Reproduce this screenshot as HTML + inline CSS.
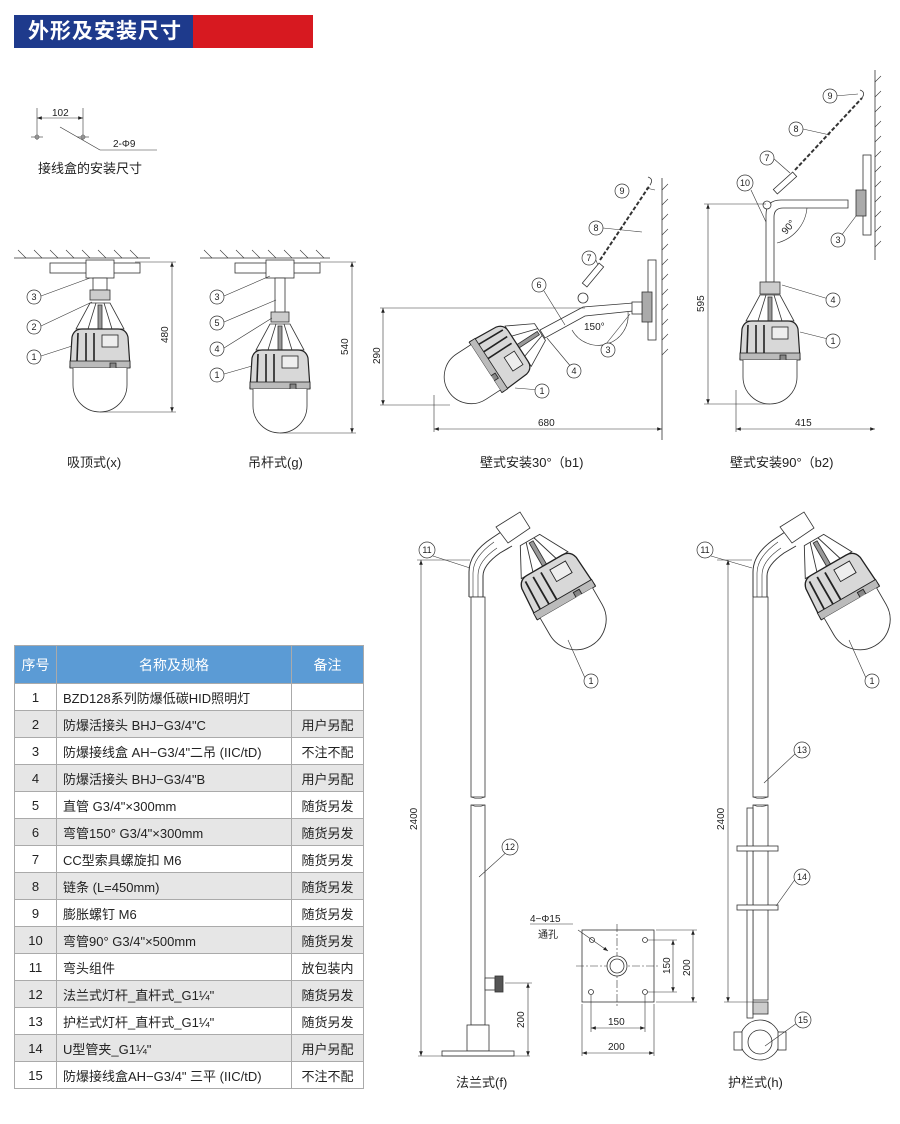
<!DOCTYPE html>
<html><head><meta charset="utf-8">
<style>
html,body{margin:0;padding:0;background:#fff;}
body{width:900px;height:1124px;position:relative;overflow:hidden;font-family:"Liberation Sans","Noto Sans CJK SC",sans-serif;}
.hb{position:absolute;left:14px;top:15px;width:179px;height:33px;background:#1e3a8c;color:#fff;font-size:21px;font-weight:bold;line-height:33px;padding-left:14px;box-sizing:border-box;letter-spacing:1px;}
.hr{position:absolute;left:193px;top:15px;width:120px;height:33px;background:#d71920;}
table{position:absolute;left:14px;top:645px;border-collapse:collapse;font-size:13px;color:#222;}
td{border:1px solid #aaa;height:26px;padding:0 6px;}
tr.h td{background:#5b9bd5;color:#fff;text-align:center;height:37px;font-size:14px;}
tr.g td{background:#e6e6e6;}
td.c{text-align:center;}
svg text{font-family:"Liberation Sans","Noto Sans CJK SC",sans-serif;fill:#222;}
</style></head><body>
<div class="hb">外形及安装尺寸</div><div class="hr"></div>

<svg width="900" height="1124" style="position:absolute;left:0;top:0" stroke="#333" fill="none" stroke-width="0.8">
<defs>
<g id="lamp">
  <polygon points="-10,0 10,0 24,26 -24,26" fill="#fff"/>
  <line x1="-4" y1="0" x2="-12" y2="26"/><line x1="4" y1="0" x2="12" y2="26"/>
  <rect x="-2" y="2" width="4" height="24" fill="#999"/>
  <path d="M-30,64 L-28,34 Q-26,26 -18,26 L18,26 Q26,26 28,34 L30,64 Z" fill="#d8d8d8" stroke="#222" stroke-width="1.2"/>
  <g stroke="#222" stroke-width="1.6">
  <line x1="-22" y1="30" x2="-23" y2="58"/><line x1="-14" y1="30" x2="-14" y2="58"/><line x1="-6" y1="30" x2="-6" y2="58"/>
  </g>
  <rect x="2" y="32" width="16" height="12" fill="#eee" stroke="#222"/>
  <rect x="-30" y="58" width="60" height="7" fill="#bbb" stroke="#222"/>
  <rect x="10" y="60" width="6" height="10" fill="#888" stroke="#222"/>
  <path d="M-27,65 L-27,82 A27,27 0 0 0 27,82 L27,65" fill="#fff"/>
</g>
<marker id="ar" markerWidth="8" markerHeight="6" refX="8" refY="3" orient="auto-start-reverse"><path d="M0,0 L8,3 L0,6 Z" fill="#222" stroke="none"/></marker>
</defs>

<!-- junction box dims -->
<g stroke-width="0.6">
<line x1="37" y1="108" x2="37" y2="140"/><line x1="83" y1="108" x2="83" y2="140"/>
<line x1="37" y1="118" x2="83" y2="118" marker-start="url(#ar)" marker-end="url(#ar)"/>
<line x1="31" y1="137" x2="43" y2="137"/><line x1="77" y1="137" x2="89" y2="137"/>
<circle cx="37" cy="137" r="2"/><circle cx="83" cy="137" r="2"/>
<line x1="60" y1="127" x2="100" y2="150"/><line x1="100" y1="150" x2="157" y2="150"/>
</g>
<text x="52" y="116" font-size="10" stroke="none">102</text>
<text x="113" y="147" font-size="10" stroke="none">2-Φ9</text>
<text x="38" y="173" font-size="13" stroke="none">接线盒的安装尺寸</text>

<!-- ceiling mount x -->
<line x1="14" y1="258" x2="150" y2="258"/>
<g stroke-width="0.6"><path d="M18,250l8,8M34,250l8,8M50,250l8,8M66,250l8,8M82,250l8,8M98,250l8,8M114,250l8,8M130,250l8,8"/></g>
<rect x="50" y="263" width="90" height="10" fill="#fff"/>
<rect x="86" y="260" width="28" height="18" fill="#fff"/>
<rect x="93" y="278" width="14" height="12" fill="#fff"/>
<rect x="90" y="290" width="20" height="10" fill="#ccc"/>
<use href="#lamp" x="100" y="303"/>
<line x1="135" y1="262" x2="176" y2="262" stroke-width="0.6"/><line x1="100" y1="412" x2="176" y2="412" stroke-width="0.6"/>
<line x1="172" y1="262" x2="172" y2="412" marker-start="url(#ar)" marker-end="url(#ar)" stroke-width="0.6"/>
<text transform="translate(168,343) rotate(-90)" font-size="10" stroke="none">480</text>

<!-- pendant g -->
<line x1="200" y1="258" x2="330" y2="258"/>
<g stroke-width="0.6"><path d="M204,250l8,8M220,250l8,8M236,250l8,8M252,250l8,8M268,250l8,8M284,250l8,8M300,250l8,8M316,250l8,8"/></g>
<rect x="235" y="263" width="85" height="10" fill="#fff"/>
<rect x="266" y="260" width="28" height="18" fill="#fff"/>
<rect x="275" y="278" width="10" height="36" fill="#fff"/>
<rect x="271" y="312" width="18" height="10" fill="#ccc"/>
<use href="#lamp" x="280" y="324"/>
<line x1="320" y1="262" x2="356" y2="262" stroke-width="0.6"/><line x1="280" y1="433" x2="356" y2="433" stroke-width="0.6"/>
<line x1="352" y1="262" x2="352" y2="433" marker-start="url(#ar)" marker-end="url(#ar)" stroke-width="0.6"/>
<text transform="translate(348,355) rotate(-90)" font-size="10" stroke="none">540</text>

<!-- wall 30 b1 -->
<line x1="662" y1="178" x2="662" y2="440"/>
<g stroke-width="0.6"><path d="M662,190l6,-6M662,205l6,-6M662,220l6,-6M662,235l6,-6M662,250l6,-6M662,265l6,-6M662,280l6,-6M662,295l6,-6M662,310l6,-6M662,325l6,-6M662,340l6,-6M662,355l6,-6"/></g>
<rect x="648" y="260" width="8" height="80" fill="#fff"/>
<rect x="642" y="292" width="10" height="30" fill="#aaa"/>
<path d="M540,330 L583,307 L633,303 L633,311 L585,316 L545,338 Z" fill="#fff"/>
<rect x="632" y="302" width="10" height="12" fill="#fff"/>
<circle cx="583" cy="298" r="5" fill="#fff"/>
<rect x="590" y="262" width="6" height="26" fill="#fff" transform="rotate(40 593 275)"/>
<path d="M600,260 L650,185" stroke-width="2" stroke-dasharray="4,2"/>
<path d="M650,185 q4,-6 -2,-8" />
<use href="#lamp" transform="translate(540,332) rotate(57)"/>
<path d="M572,330 A30,30 0 0 0 628,312" stroke-width="0.6"/>
<text x="584" y="330" font-size="10" stroke="none">150°</text>
<line x1="380" y1="308" x2="585" y2="308" stroke-width="0.6"/>
<line x1="380" y1="405" x2="450" y2="405" stroke-width="0.6"/>
<line x1="383" y1="308" x2="383" y2="405" marker-start="url(#ar)" marker-end="url(#ar)" stroke-width="0.6"/>
<text transform="translate(380,364) rotate(-90)" font-size="10" stroke="none">290</text>
<line x1="434" y1="395" x2="434" y2="432" stroke-width="0.6"/>
<line x1="434" y1="429" x2="662" y2="429" marker-start="url(#ar)" marker-end="url(#ar)" stroke-width="0.6"/>
<text x="538" y="426" font-size="10" stroke="none">680</text>

<!-- wall 90 b2 -->
<line x1="875" y1="70" x2="875" y2="260"/>
<g stroke-width="0.6"><path d="M875,82l6,-6M875,97l6,-6M875,112l6,-6M875,127l6,-6M875,142l6,-6M875,157l6,-6M875,172l6,-6M875,187l6,-6M875,202l6,-6M875,217l6,-6M875,232l6,-6M875,247l6,-6"/></g>
<rect x="863" y="155" width="8" height="80" fill="#fff"/>
<rect x="856" y="190" width="10" height="26" fill="#aaa"/>
<path d="M766,282 L766,215 Q766,200 781,200 L848,200 L848,208 L783,208 Q774,208 774,217 L774,282 Z" fill="#fff"/>
<rect x="760" y="282" width="20" height="12" fill="#ccc"/>
<use href="#lamp" x="770" y="295"/>
<circle cx="767" cy="205" r="4" fill="#fff"/>
<rect x="782" y="170" width="6" height="26" fill="#fff" transform="rotate(48 785 183)"/>
<path d="M795,170 L862,98" stroke-width="2" stroke-dasharray="4,2"/>
<path d="M862,98 q4,-6 -2,-8"/>
<path d="M777,243 A40,40 0 0 0 807,208" stroke-width="0.6"/>
<text transform="translate(786,235) rotate(-50)" font-size="10" stroke="none">90°</text>
<line x1="704" y1="204" x2="766" y2="204" stroke-width="0.6"/>
<line x1="704" y1="404" x2="770" y2="404" stroke-width="0.6"/>
<line x1="708" y1="204" x2="708" y2="404" marker-start="url(#ar)" marker-end="url(#ar)" stroke-width="0.6"/>
<text transform="translate(704,312) rotate(-90)" font-size="10" stroke="none">595</text>
<line x1="736" y1="390" x2="736" y2="432" stroke-width="0.6"/>
<line x1="736" y1="429" x2="875" y2="429" marker-start="url(#ar)" marker-end="url(#ar)" stroke-width="0.6"/>
<text x="795" y="426" font-size="10" stroke="none">415</text>

<!-- flange pole f -->
<path d="M469,597 L469,572 Q469,553 492,538 L504,530 M483,597 L483,576 Q483,565 500,553 L512,546" fill="none" stroke-width="1"/>
<path d="M473,597 L473,573 Q473,557 494,542 M478,597 L478,575 Q478,561 497,548" stroke-width="0.6"/>
<path d="M469,597 L483,597" />
<path d="M496,527 L520,512 L530,528 L508,543 Z" fill="#fff"/>
<use href="#lamp" transform="translate(530,540) rotate(-30) scale(1.12)"/>
<rect x="471" y="597" width="14" height="200" fill="#fff"/>
<rect x="471" y="805" width="14" height="220" fill="#fff"/>
<path d="M471,797 q7,3 14,0 M471,805 q7,3 14,0" stroke-width="0.6"/>
<rect x="485" y="978" width="10" height="12" fill="#fff"/><rect x="495" y="976" width="8" height="16" fill="#555"/>
<rect x="467" y="1025" width="22" height="26" fill="#fff"/>
<rect x="442" y="1051" width="72" height="5" fill="#fff"/>
<line x1="418" y1="1056" x2="530" y2="1056" stroke-width="0.6"/>
<line x1="417" y1="560" x2="470" y2="560" stroke-width="0.6"/>
<line x1="421" y1="560" x2="421" y2="1056" marker-start="url(#ar)" marker-end="url(#ar)" stroke-width="0.6"/>
<text transform="translate(417,830) rotate(-90)" font-size="10" stroke="none">2400</text>
<line x1="505" y1="983" x2="532" y2="983" stroke-width="0.6"/>
<line x1="528" y1="983" x2="528" y2="1056" marker-start="url(#ar)" marker-end="url(#ar)" stroke-width="0.6"/>
<text transform="translate(524,1028) rotate(-90)" font-size="10" stroke="none">200</text>

<!-- plate -->
<rect x="582" y="930" width="72" height="72" fill="#fff"/>
<line x1="617" y1="924" x2="617" y2="1008" stroke-dasharray="8,2,2,2" stroke-width="0.6"/>
<line x1="576" y1="966" x2="660" y2="966" stroke-dasharray="8,2,2,2" stroke-width="0.6"/>
<circle cx="617" cy="966" r="10" fill="#fff"/><circle cx="617" cy="966" r="7"/>
<circle cx="592" cy="940" r="2.5"/><circle cx="645" cy="940" r="2.5"/><circle cx="591" cy="992" r="2.5"/><circle cx="645" cy="992" r="2.5"/>
<line x1="530" y1="924" x2="573" y2="924" stroke-width="0.6"/>
<line x1="578" y1="930" x2="608" y2="951" stroke-width="0.6" marker-end="url(#ar)"/>
<line x1="648" y1="940" x2="677" y2="940" stroke-width="0.6"/><line x1="648" y1="992" x2="677" y2="992" stroke-width="0.6"/>
<line x1="673" y1="940" x2="673" y2="992" marker-start="url(#ar)" marker-end="url(#ar)" stroke-width="0.6"/>
<line x1="656" y1="930" x2="697" y2="930" stroke-width="0.6"/><line x1="656" y1="1002" x2="697" y2="1002" stroke-width="0.6"/>
<line x1="693" y1="930" x2="693" y2="1002" marker-start="url(#ar)" marker-end="url(#ar)" stroke-width="0.6"/>
<text transform="translate(670,974) rotate(-90)" font-size="10" stroke="none">150</text>
<text transform="translate(690,976) rotate(-90)" font-size="10" stroke="none">200</text>
<line x1="591" y1="995" x2="591" y2="1032" stroke-width="0.6"/><line x1="645" y1="995" x2="645" y2="1032" stroke-width="0.6"/>
<line x1="591" y1="1028" x2="645" y2="1028" marker-start="url(#ar)" marker-end="url(#ar)" stroke-width="0.6"/>
<line x1="582" y1="1004" x2="582" y2="1056" stroke-width="0.6"/><line x1="654" y1="1004" x2="654" y2="1056" stroke-width="0.6"/>
<line x1="582" y1="1053" x2="654" y2="1053" marker-start="url(#ar)" marker-end="url(#ar)" stroke-width="0.6"/>
<text x="608" y="1025" font-size="10" stroke="none">150</text>
<text x="608" y="1050" font-size="10" stroke="none">200</text>
<text x="530" y="922" font-size="10" stroke="none">4−Φ15</text>
<text x="538" y="938" font-size="10" stroke="none">通孔</text>

<!-- guardrail h -->
<path d="M753,597 L753,572 Q753,553 776,538 L788,530 M767,597 L767,576 Q767,565 784,553 L796,546" stroke-width="1"/>
<path d="M757,597 L757,573 Q757,557 778,542 M762,597 L762,575 Q762,561 781,548" stroke-width="0.6"/>
<path d="M780,527 L804,512 L814,528 L792,543 Z" fill="#fff"/>
<use href="#lamp" transform="translate(814,540) rotate(-30) scale(1.12)"/>
<rect x="753" y="597" width="15" height="200" fill="#fff"/>
<rect x="753" y="805" width="15" height="195" fill="#fff"/>
<path d="M753,797 q7,3 15,0 M753,805 q7,3 15,0" stroke-width="0.6"/>
<rect x="747" y="808" width="6" height="210" fill="#fff"/>
<rect x="737" y="846" width="41" height="5" fill="#fff"/>
<rect x="737" y="905" width="41" height="5" fill="#fff"/>
<rect x="753" y="1002" width="15" height="12" fill="#ccc"/>
<circle cx="760" cy="1040" r="20" fill="#fff"/><circle cx="760" cy="1042" r="12"/>
<rect x="734" y="1032" width="8" height="18" fill="#fff"/><rect x="778" y="1032" width="8" height="18" fill="#fff"/>
<line x1="717" y1="560" x2="752" y2="560" stroke-width="0.6"/>
<line x1="724" y1="1002" x2="753" y2="1002" stroke-width="0.6"/>
<line x1="728" y1="560" x2="728" y2="1002" marker-start="url(#ar)" marker-end="url(#ar)" stroke-width="0.6"/>
<text transform="translate(724,830) rotate(-90)" font-size="10" stroke="none">2400</text>

<!-- leader lines and circled labels -->
<g stroke-width="0.6">
<line x1="41" y1="296" x2="90" y2="278"/><line x1="41" y1="326" x2="92" y2="302"/><line x1="41" y1="356" x2="72" y2="346"/>
<line x1="224" y1="296" x2="270" y2="276"/><line x1="224" y1="322" x2="276" y2="300"/><line x1="224" y1="348" x2="272" y2="318"/><line x1="224" y1="374" x2="252" y2="366"/>
<line x1="655" y1="190" x2="646" y2="188"/><line x1="603" y1="228" x2="642" y2="232"/><line x1="595" y1="258" x2="598" y2="265"/><line x1="544" y1="291" x2="565" y2="325"/>
<line x1="572" y1="368" x2="547" y2="338"/><line x1="606" y1="344" x2="630" y2="314"/><line x1="540" y1="390" x2="515" y2="388"/>
<line x1="835" y1="96" x2="858" y2="94"/><line x1="803" y1="129" x2="830" y2="135"/><line x1="773" y1="158" x2="790" y2="173"/><line x1="751" y1="190" x2="766" y2="222"/>
<line x1="832" y1="300" x2="782" y2="285"/><line x1="832" y1="340" x2="800" y2="332"/><line x1="838" y1="240" x2="856" y2="216"/>
<line x1="433" y1="556" x2="470" y2="568"/><line x1="711" y1="556" x2="752" y2="568"/>
<line x1="585" y1="678" x2="568" y2="640"/><line x1="866" y1="678" x2="849" y2="640"/>
<line x1="510" y1="849" x2="479" y2="877"/><line x1="796" y1="753" x2="764" y2="783"/><line x1="796" y1="878" x2="776" y2="906"/><line x1="797" y1="1023" x2="765" y2="1046"/>
</g>
<g fill="#fff" stroke-width="0.7">
<circle cx="34" cy="297" r="7"/><circle cx="34" cy="327" r="7"/><circle cx="34" cy="357" r="7"/>
<circle cx="217" cy="297" r="7"/><circle cx="217" cy="323" r="7"/><circle cx="217" cy="349" r="7"/><circle cx="217" cy="375" r="7"/>
<circle cx="622" cy="191" r="7"/><circle cx="596" cy="228" r="7"/><circle cx="589" cy="258" r="7"/><circle cx="539" cy="285" r="7"/>
<circle cx="574" cy="371" r="7"/><circle cx="608" cy="350" r="7"/><circle cx="542" cy="391" r="7"/>
<circle cx="830" cy="96" r="7"/><circle cx="796" cy="129" r="7"/><circle cx="767" cy="158" r="7"/><circle cx="745" cy="183" r="8"/>
<circle cx="833" cy="300" r="7"/><circle cx="833" cy="341" r="7"/><circle cx="838" cy="240" r="7"/>
<circle cx="427" cy="550" r="8"/><circle cx="705" cy="550" r="8"/>
<circle cx="591" cy="681" r="7"/><circle cx="872" cy="681" r="7"/>
<circle cx="510" cy="847" r="8"/><circle cx="802" cy="750" r="8"/><circle cx="802" cy="877" r="8"/><circle cx="803" cy="1020" r="8"/>
</g>
<g font-size="9" stroke="none" text-anchor="middle">
<text x="34" y="300">3</text><text x="34" y="330">2</text><text x="34" y="360">1</text>
<text x="217" y="300">3</text><text x="217" y="326">5</text><text x="217" y="352">4</text><text x="217" y="378">1</text>
<text x="622" y="194">9</text><text x="596" y="231">8</text><text x="589" y="261">7</text><text x="539" y="288">6</text>
<text x="574" y="374">4</text><text x="608" y="353">3</text><text x="542" y="394">1</text>
<text x="830" y="99">9</text><text x="796" y="132">8</text><text x="767" y="161">7</text><text x="745" y="186">10</text>
<text x="833" y="303">4</text><text x="833" y="344">1</text><text x="838" y="243">3</text>
<text x="427" y="553">11</text><text x="705" y="553">11</text>
<text x="591" y="684">1</text><text x="872" y="684">1</text>
<text x="510" y="850">12</text><text x="802" y="753">13</text><text x="802" y="880">14</text><text x="803" y="1023">15</text>
</g>
<g font-size="13" stroke="none">
<text x="67" y="467">吸顶式(x)</text>
<text x="248" y="467">吊杆式(g)</text>
<text x="480" y="467">壁式安装30°（b1)</text>
<text x="730" y="467">壁式安装90°（b2)</text>
<text x="456" y="1087">法兰式(f)</text>
<text x="728" y="1087">护栏式(h)</text>
</g>
</svg>

<table>
<colgroup><col style="width:42px"><col style="width:235px"><col style="width:72px"></colgroup>
<tr class="h"><td>序号</td><td>名称及规格</td><td>备注</td></tr>
<tr><td class="c">1</td><td>BZD128系列防爆低碳HID照明灯</td><td></td></tr>
<tr class="g"><td class="c">2</td><td>防爆活接头 BHJ−G3/4"C</td><td class="c">用户另配</td></tr>
<tr><td class="c">3</td><td>防爆接线盒 AH−G3/4"二吊 (IIC/tD)</td><td class="c">不注不配</td></tr>
<tr class="g"><td class="c">4</td><td>防爆活接头 BHJ−G3/4"B</td><td class="c">用户另配</td></tr>
<tr><td class="c">5</td><td>直管 G3/4"×300mm</td><td class="c">随货另发</td></tr>
<tr class="g"><td class="c">6</td><td>弯管150°  G3/4"×300mm</td><td class="c">随货另发</td></tr>
<tr><td class="c">7</td><td>CC型索具螺旋扣 M6</td><td class="c">随货另发</td></tr>
<tr class="g"><td class="c">8</td><td>链条 (L=450mm)</td><td class="c">随货另发</td></tr>
<tr><td class="c">9</td><td>膨胀螺钉 M6</td><td class="c">随货另发</td></tr>
<tr class="g"><td class="c">10</td><td>弯管90°  G3/4"×500mm</td><td class="c">随货另发</td></tr>
<tr><td class="c">11</td><td>弯头组件</td><td class="c">放包装内</td></tr>
<tr class="g"><td class="c">12</td><td>法兰式灯杆_直杆式_G1¼"</td><td class="c">随货另发</td></tr>
<tr><td class="c">13</td><td>护栏式灯杆_直杆式_G1¼"</td><td class="c">随货另发</td></tr>
<tr class="g"><td class="c">14</td><td>U型管夹_G1¼"</td><td class="c">用户另配</td></tr>
<tr><td class="c">15</td><td>防爆接线盒AH−G3/4" 三平 (IIC/tD)</td><td class="c">不注不配</td></tr>
</table>
</body></html>
